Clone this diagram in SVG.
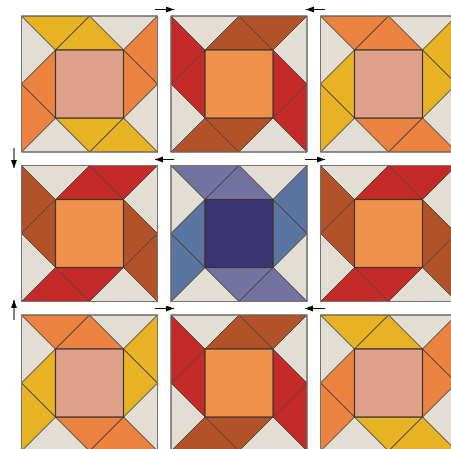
<svg xmlns="http://www.w3.org/2000/svg" xmlns:xlink="http://www.w3.org/1999/xlink" width="451" height="449" viewBox="0 0 451 449">
<style>
.t{stroke:#4f4640;stroke-width:0.9;stroke-linejoin:round}
.lt{fill:#e3ded4}
.ctr{stroke:#3e3430;stroke-width:1.2}
.edge{fill:none;stroke:#77726c;stroke-width:1}
.yel{fill:#e7b223}
.org{fill:#ec8240}
.pnk{fill:#dea08a}
.brn{fill:#b25228}
.red{fill:#c42b28}
.oc{fill:#f0914b}
.pur{fill:#7373a2}
.blu{fill:#5b75a2}
.nav{fill:#3b3473}
.arr{stroke:#000;stroke-width:1;fill:none}
</style>
<defs>
<marker id="ah" markerUnits="userSpaceOnUse" markerWidth="9" markerHeight="7" refX="8" refY="3" orient="auto">
<path d="M0,0 L8,3 L0,6 Z" fill="#000"/>
</marker>
<!-- orientation 1: A=T1,T2,T7,T8 ; B=T4,T5,T10,T11 ; light=T3,T6,T9,T12 -->
<path id="o1a" d="M0,0 L68,0 L34,34Z M34,34 L68,0 L102,34Z M136,136 L102,102 L68,136Z M102,102 L68,136 L34,102Z"/>
<path id="o1b" d="M136,0 L102,34 L136,68Z M102,34 L136,68 L102,102Z M0,136 L34,102 L0,68Z M34,102 L0,68 L34,34Z"/>
<path id="o1l" d="M68,0 L136,0 L102,34Z M136,68 L102,102 L136,136Z M68,136 L34,102 L0,136Z M0,68 L34,34 L0,0Z"/>
<!-- orientation 2: A=T2,T3,T8,T9 ; B=T5,T6,T11,T12 ; light=T1,T4,T7,T10 -->
<path id="o2a" d="M34,34 L68,0 L102,34Z M68,0 L136,0 L102,34Z M102,102 L68,136 L34,102Z M68,136 L34,102 L0,136Z"/>
<path id="o2b" d="M102,34 L136,68 L102,102Z M136,68 L102,102 L136,136Z M34,102 L0,68 L34,34Z M0,68 L34,34 L0,0Z"/>
<path id="o2l" d="M0,0 L68,0 L34,34Z M136,0 L102,34 L136,68Z M136,136 L102,102 L68,136Z M0,136 L34,102 L0,68Z"/>
<rect id="sq" x="34" y="34" width="68" height="68"/>
<rect id="bd" x="0" y="0" width="136" height="136"/>
</defs>
<rect width="451" height="449" fill="#fff"/>
<g id="block1" transform="translate(21.5,16)">
<use xlink:href="#o1l" class="t lt"/><use xlink:href="#o1a" class="t yel"/><use xlink:href="#o1b" class="t org"/><use xlink:href="#sq" class="ctr pnk"/><use xlink:href="#bd" class="edge"/>
</g>
<g id="block2" transform="translate(171,16)">
<use xlink:href="#o2l" class="t lt"/><use xlink:href="#o2a" class="t brn"/><use xlink:href="#o2b" class="t red"/><use xlink:href="#sq" class="ctr oc"/><use xlink:href="#bd" class="edge"/>
</g>
<g id="block3" transform="translate(320.5,16)">
<use xlink:href="#o1l" class="t lt"/><use xlink:href="#o1a" class="t org"/><use xlink:href="#o1b" class="t yel"/><use xlink:href="#sq" class="ctr pnk"/><use xlink:href="#bd" class="edge"/>
</g>
<g id="block4" transform="translate(21.5,165.5)">
<use xlink:href="#o2l" class="t lt"/><use xlink:href="#o2a" class="t red"/><use xlink:href="#o2b" class="t brn"/><use xlink:href="#sq" class="ctr oc"/><use xlink:href="#bd" class="edge"/>
</g>
<g id="block5" transform="translate(171,165.5)">
<use xlink:href="#o1l" class="t lt"/><use xlink:href="#o1a" class="t pur"/><use xlink:href="#o1b" class="t blu"/><use xlink:href="#sq" class="ctr nav"/><use xlink:href="#bd" class="edge"/>
</g>
<g id="block6" transform="translate(320.5,165.5)">
<use xlink:href="#o2l" class="t lt"/><use xlink:href="#o2a" class="t red"/><use xlink:href="#o2b" class="t brn"/><use xlink:href="#sq" class="ctr oc"/><use xlink:href="#bd" class="edge"/>
</g>
<g id="block7" transform="translate(21.5,315)">
<use xlink:href="#o1l" class="t lt"/><use xlink:href="#o1a" class="t org"/><use xlink:href="#o1b" class="t yel"/><use xlink:href="#sq" class="ctr pnk"/><use xlink:href="#bd" class="edge"/>
</g>
<g id="block8" transform="translate(171,315)">
<use xlink:href="#o2l" class="t lt"/><use xlink:href="#o2a" class="t brn"/><use xlink:href="#o2b" class="t red"/><use xlink:href="#sq" class="ctr oc"/><use xlink:href="#bd" class="edge"/>
</g>
<g id="block9" transform="translate(320.5,315)">
<use xlink:href="#o1l" class="t lt"/><use xlink:href="#o1a" class="t yel"/><use xlink:href="#o1b" class="t org"/><use xlink:href="#sq" class="ctr pnk"/><use xlink:href="#bd" class="edge"/>
</g>
<g id="connectors">
<line class="arr" x1="155" y1="9.5" x2="174" y2="9.5" marker-end="url(#ah)"/>
<line class="arr" x1="325" y1="9.5" x2="306" y2="9.5" marker-end="url(#ah)"/>
<line class="arr" x1="14" y1="148" x2="14" y2="168" marker-end="url(#ah)"/>
<line class="arr" x1="174" y1="159.5" x2="155" y2="159.5" marker-end="url(#ah)"/>
<line class="arr" x1="305" y1="159.5" x2="325" y2="159.5" marker-end="url(#ah)"/>
<line class="arr" x1="14" y1="320" x2="14" y2="300" marker-end="url(#ah)"/>
<line class="arr" x1="155" y1="308.5" x2="174" y2="308.5" marker-end="url(#ah)"/>
<line class="arr" x1="325" y1="308.5" x2="305" y2="308.5" marker-end="url(#ah)"/>
</g>
</svg>
